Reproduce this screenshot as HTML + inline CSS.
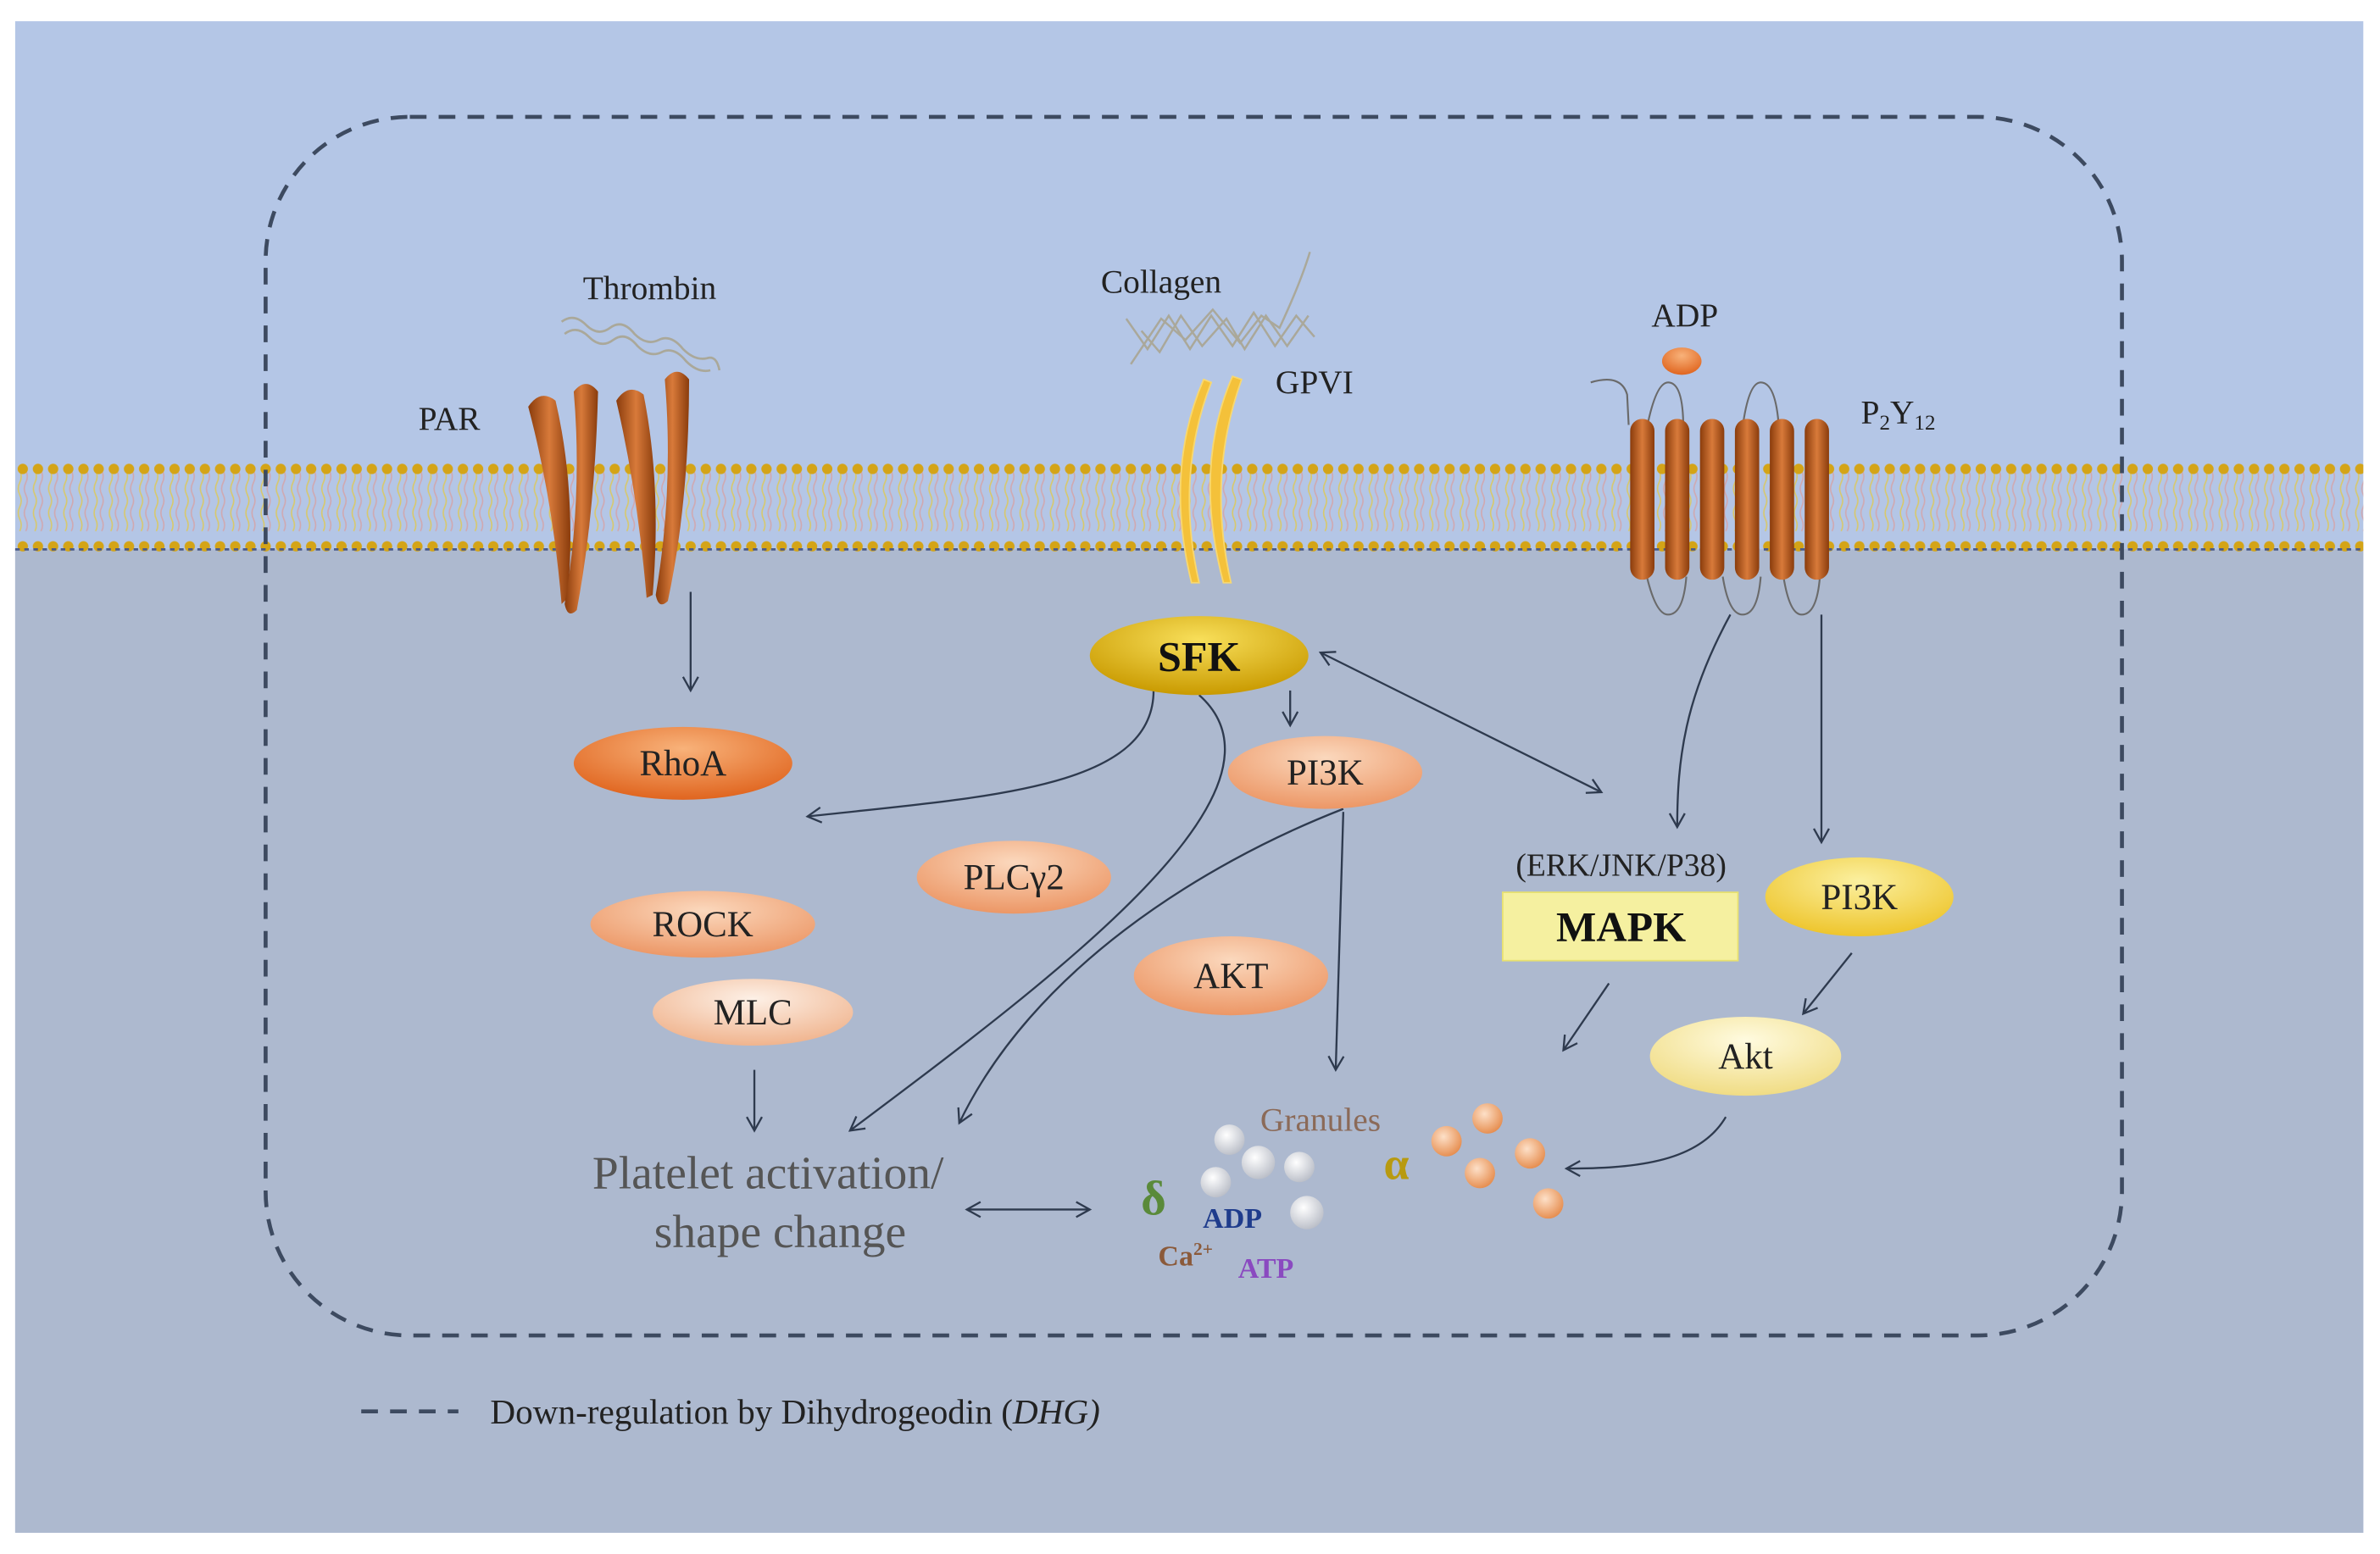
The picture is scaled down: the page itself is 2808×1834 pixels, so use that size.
<!DOCTYPE html>
<html><head><meta charset="utf-8"><style>html,body{margin:0;padding:0;background:#fff;}svg{display:block}</style></head>
<body>
<svg width="2808" height="1834" viewBox="0 0 1568 1024" preserveAspectRatio="none" xmlns="http://www.w3.org/2000/svg" font-family="'Liberation Serif', serif">
<defs>
<pattern id="mem" x="0" y="300" width="10" height="70" patternUnits="userSpaceOnUse">
<path d="M3 10 q2 4 0 8 q-2 4 0 8 q2 4 0 8 q-2 4 0 8 q2 4 0 8" stroke="#d8c86a" stroke-width="0.9" fill="none"/>
<path d="M7 10 q2 4 0 8 q-2 4 0 8 q2 4 0 8 q-2 4 0 8 q2 4 0 8" stroke="#d0a8b0" stroke-width="0.9" fill="none"/>
<circle cx="5" cy="9" r="3.4" fill="#d4a417"/>
<circle cx="5" cy="60" r="3.4" fill="#d4a417"/>
</pattern>
<radialGradient id="gOr" cx="0.5" cy="0.3" r="0.7"><stop offset="0" stop-color="#f8b27a"/><stop offset="1" stop-color="#e0651f"/></radialGradient>
<radialGradient id="gLo" cx="0.5" cy="0.3" r="0.7"><stop offset="0" stop-color="#fbd8bd"/><stop offset="1" stop-color="#ec9766"/></radialGradient>
<radialGradient id="gPa" cx="0.5" cy="0.3" r="0.7"><stop offset="0" stop-color="#fdf0e6"/><stop offset="1" stop-color="#f0b48e"/></radialGradient>
<radialGradient id="gGo" cx="0.5" cy="0.3" r="0.7"><stop offset="0" stop-color="#f8df5a"/><stop offset="1" stop-color="#c99a00"/></radialGradient>
<radialGradient id="gYe" cx="0.5" cy="0.3" r="0.7"><stop offset="0" stop-color="#fbf0a0"/><stop offset="1" stop-color="#eec52c"/></radialGradient>
<radialGradient id="gPy" cx="0.5" cy="0.3" r="0.7"><stop offset="0" stop-color="#fffbe0"/><stop offset="1" stop-color="#f0dc84"/></radialGradient>
<radialGradient id="gW" cx="0.4" cy="0.35" r="0.7"><stop offset="0" stop-color="#ffffff"/><stop offset="1" stop-color="#b8bcc6"/></radialGradient>
<radialGradient id="gO2" cx="0.4" cy="0.35" r="0.7"><stop offset="0" stop-color="#fde0c8"/><stop offset="1" stop-color="#e58a4a"/></radialGradient>
<linearGradient id="gBr" x1="0" x2="1"><stop offset="0" stop-color="#8a3c0c"/><stop offset="0.5" stop-color="#d87a3a"/><stop offset="1" stop-color="#8a3c0c"/></linearGradient>
<marker id="ar" markerWidth="12" markerHeight="12" refX="10" refY="6" orient="auto" markerUnits="userSpaceOnUse"><path d="M1 1 L10 6 L1 11" fill="none" stroke="#2e3a4e" stroke-width="1.3"/></marker>
<marker id="as" markerWidth="12" markerHeight="12" refX="2" refY="6" orient="auto" markerUnits="userSpaceOnUse"><path d="M11 1 L2 6 L11 11" fill="none" stroke="#2e3a4e" stroke-width="1.3"/></marker>
</defs>
<rect x="0" y="0" width="1568" height="1024" fill="#fff"/>
<rect x="10" y="14" width="1547" height="996" fill="#b4c6e6"/>
<rect x="10" y="362" width="1547" height="648" fill="#adb9cf"/>
<rect x="10" y="300" width="1547" height="70" fill="url(#mem)"/>
<line x1="10" y1="362" x2="1557" y2="362" stroke="#4a5a8a" stroke-width="1.5" stroke-dasharray="3 3"/>

<rect x="175" y="77" width="1223" height="803" rx="95" fill="none" stroke="#3d4a60" stroke-width="2.6" stroke-dasharray="11 8"/>

<text x="428" y="197" font-size="22" text-anchor="middle" fill="#222">Thrombin</text>
<path d="M370 212 q8 -6 16 2 q8 8 16 2 q8 -6 16 4 q8 8 16 4 q8 -4 16 6 q8 8 16 6 q6 -2 8 8 M372 220 q8 -6 16 2 q8 8 16 2 q8 -6 16 4 q8 8 16 4 q8 -4 16 6 q8 8 16 6" stroke="#aaa89a" stroke-width="1.5" fill="none"/>
<text x="296" y="283" font-size="22" text-anchor="middle" fill="#222">PAR</text>
<g fill="url(#gBr)">
<path d="M348 268 q8 -12 18 -4 q14 60 8 130 l-4 4 q-6 -70 -22 -130z"/>
<path d="M378 258 q8 -10 16 0 q-2 80 -14 144 q-6 6 -8 -4 q12 -70 6 -140z"/>
<path d="M406 264 q8 -12 18 -4 q12 60 6 132 l-4 2 q-6 -70 -20 -130z"/>
<path d="M438 250 q8 -10 16 0 q0 80 -14 146 q-6 6 -8 -4 q12 -70 6 -142z"/>
</g>
<line x1="455" y1="390" x2="455" y2="455" stroke="#2e3a4e" stroke-width="1.3" marker-end="url(#ar)"/>

<text x="765" y="193" font-size="22" text-anchor="middle" fill="#222">Collagen</text>
<path d="M742 210 l14 20 l14 -22 l14 22 l14 -22 l14 20 l14 -22 l14 22 l14 -20 l12 14 M752 218 l12 14 l14 -24 l14 20 l16 -18 l12 20 l14 -22 l14 20 l14 -20 M745 240 l20 -30 l16 14 l18 -20 l18 22 l14 -18 l12 8 q14 -30 20 -50" stroke="#aaa89a" stroke-width="1.4" fill="none"/>
<text x="866" y="259" font-size="22" text-anchor="middle" fill="#222">GPVI</text>
<path d="M793 250 q-26 60 -8 134 l5 0 q-16 -70 8 -132z" fill="#f4c13a" stroke="#f8d870" stroke-width="1"/>
<path d="M812 248 q-26 60 -6 136 l5 0 q-16 -70 7 -134z" fill="#f4c13a" stroke="#f8d870" stroke-width="1"/>

<text x="1110" y="215" font-size="22" text-anchor="middle" fill="#222">ADP</text>
<ellipse cx="1108" cy="238" rx="13" ry="9" fill="url(#gOr)"/>
<path d="M1048 252 q20 -6 24 8 l1 20 M1085 282 q6 -30 14 -30 q10 0 10 30 M1148 282 q4 -30 12 -30 q10 0 12 30 M1085 380 q6 25 14 25 q10 0 12 -25 M1135 380 q4 25 13 25 q10 0 12 -25 M1175 380 q4 25 12 25 q10 0 12 -25" stroke="#6a6a6a" stroke-width="1.2" fill="none"/>
<g fill="url(#gBr)">
<rect x="1074" y="276" width="16" height="106" rx="8"/>
<rect x="1097" y="276" width="16" height="106" rx="8"/>
<rect x="1120" y="276" width="16" height="106" rx="8"/>
<rect x="1143" y="276" width="16" height="106" rx="8"/>
<rect x="1166" y="276" width="16" height="106" rx="8"/>
<rect x="1189" y="276" width="16" height="106" rx="8"/>
</g>
<text x="1226" y="279" font-size="22" fill="#222">P<tspan font-size="14" dy="4">2</tspan><tspan dy="-4">Y</tspan><tspan font-size="14" dy="4">12</tspan></text>

<path d="M760 455 C 760 520 650 525 532 538" stroke="#2e3a4e" stroke-width="1.3" fill="none" marker-end="url(#ar)"/>
<path d="M790 458 C 860 520 700 640 560 745" stroke="#2e3a4e" stroke-width="1.3" fill="none" marker-end="url(#ar)"/>
<path d="M885 533 C 790 570 680 640 632 740" stroke="#2e3a4e" stroke-width="1.3" fill="none" marker-end="url(#ar)"/>
<line x1="885" y1="535" x2="880" y2="705" stroke="#2e3a4e" stroke-width="1.3" marker-end="url(#ar)"/>
<line x1="850" y1="455" x2="850" y2="478" stroke="#2e3a4e" stroke-width="1.3" marker-end="url(#ar)"/>
<line x1="870" y1="430" x2="1055" y2="522" stroke="#2e3a4e" stroke-width="1.3" marker-start="url(#as)" marker-end="url(#ar)"/>
<path d="M1140 405 C 1110 460 1105 500 1105 545" stroke="#2e3a4e" stroke-width="1.3" fill="none" marker-end="url(#ar)"/>
<line x1="1200" y1="405" x2="1200" y2="555" stroke="#2e3a4e" stroke-width="1.3" marker-end="url(#ar)"/>
<line x1="1060" y1="648" x2="1030" y2="692" stroke="#2e3a4e" stroke-width="1.3" marker-end="url(#ar)"/>
<line x1="1220" y1="628" x2="1188" y2="668" stroke="#2e3a4e" stroke-width="1.3" marker-end="url(#ar)"/>
<path d="M1137 736 C 1120 765 1080 770 1032 770" stroke="#2e3a4e" stroke-width="1.3" fill="none" marker-end="url(#ar)"/>
<line x1="497" y1="705" x2="497" y2="745" stroke="#2e3a4e" stroke-width="1.3" marker-end="url(#ar)"/>
<line x1="637" y1="797" x2="718" y2="797" stroke="#2e3a4e" stroke-width="1.3" marker-start="url(#as)" marker-end="url(#ar)"/>

<g font-size="24" text-anchor="middle" fill="#222">
<ellipse cx="790" cy="432" rx="72" ry="26" fill="url(#gGo)"/>
<text x="790" y="442" font-size="28" font-weight="bold" fill="#111">SFK</text>
<ellipse cx="450" cy="503" rx="72" ry="24" fill="url(#gOr)"/>
<text x="450" y="511">RhoA</text>
<ellipse cx="873" cy="509" rx="64" ry="24" fill="url(#gLo)"/>
<text x="873" y="517">PI3K</text>
<ellipse cx="668" cy="578" rx="64" ry="24" fill="url(#gLo)"/>
<text x="668" y="586">PLCγ2</text>
<ellipse cx="463" cy="609" rx="74" ry="22" fill="url(#gLo)"/>
<text x="463" y="617">ROCK</text>
<ellipse cx="496" cy="667" rx="66" ry="22" fill="url(#gPa)"/>
<text x="496" y="675">MLC</text>
<ellipse cx="811" cy="643" rx="64" ry="26" fill="url(#gLo)"/>
<text x="811" y="651">AKT</text>
<text x="1068" y="577" font-size="21">(ERK/JNK/P38)</text>
<rect x="990" y="588" width="155" height="45" fill="#f5f0a0" stroke="#e8e070" stroke-width="1"/>
<text x="1068" y="620" font-size="28" font-weight="bold" fill="#111">MAPK</text>
<ellipse cx="1225" cy="591" rx="62" ry="26" fill="url(#gYe)"/>
<text x="1225" y="599">PI3K</text>
<ellipse cx="1150" cy="696" rx="63" ry="26" fill="url(#gPy)"/>
<text x="1150" y="704">Akt</text>
</g>

<text x="506" y="783" font-size="31" text-anchor="middle" fill="#555">Platelet activation/</text>
<text x="514" y="822" font-size="31" text-anchor="middle" fill="#555">shape change</text>

<text x="870" y="745" font-size="22" text-anchor="middle" fill="#8b6a58">Granules</text>
<g fill="url(#gW)">
<circle cx="810" cy="751" r="10"/><circle cx="801" cy="779" r="10"/><circle cx="829" cy="766" r="11"/><circle cx="856" cy="769" r="10"/><circle cx="861" cy="799" r="11"/>
</g>
<text x="760" y="800" font-size="32" text-anchor="middle" fill="#5a8a3a" font-weight="bold">δ</text>
<text x="812" y="809" font-size="19" text-anchor="middle" fill="#1f3c8c" font-weight="bold">ADP</text>
<text x="763" y="834" font-size="19" fill="#8b5a3a" font-weight="bold">Ca<tspan font-size="12" dy="-7">2+</tspan></text>
<text x="834" y="842" font-size="19" text-anchor="middle" fill="#8a4ac0" font-weight="bold">ATP</text>
<text x="920" y="777" font-size="30" text-anchor="middle" fill="#b89a10" font-weight="bold">α</text>
<g fill="url(#gO2)">
<circle cx="953" cy="752" r="10"/><circle cx="980" cy="737" r="10"/><circle cx="975" cy="773" r="10"/><circle cx="1008" cy="760" r="10"/><circle cx="1020" cy="793" r="10"/>
</g>

<line x1="238" y1="930" x2="302" y2="930" stroke="#3d4a60" stroke-width="2.6" stroke-dasharray="11 8"/>
<text x="323" y="938" font-size="23" fill="#222">Down-regulation by Dihydrogeodin (<tspan font-style="italic">DHG)</tspan></text>
</svg>
</body></html>
